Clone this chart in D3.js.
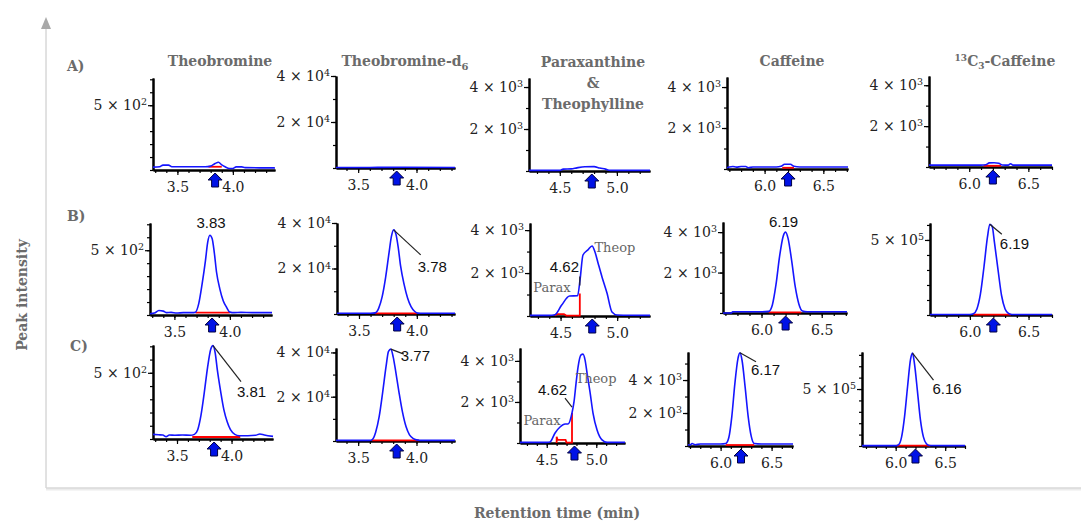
<!DOCTYPE html>
<html lang="en">
<head>
<meta charset="UTF-8">
<title>Chromatograms</title>
<script src="https://cdn.jsdelivr.net/npm/d3@7"></script>
<style>
    body { margin: 0; background: #fff; }
    svg text { font-family: "DejaVu Serif", serif; }
    .title, .rowlab, .axlab { font-weight: bold; fill: #6b6b6b; font-size: 14px; }
    .ytick text { font-size: 14px; fill: #222; }
    .xtick text { font-size: 14px; fill: #222; }
    .peak { font-family: "Liberation Sans", Arial, sans-serif !important; font-size: 15px; fill: #111; }
    .cmp { font-size: 13px; fill: #666; }
</style>
</head>
<body>
<script>

    var columns = ["Theobromine", "Theobromine-d6", "Paraxanthine & Theophylline", "Caffeine", "13C3-Caffeine"];
    var rowLabels = ["A)", "B)", "C)"];

    // retention time axes (min)
    var xDomains = [[3.28, 4.38], [3.31, 4.33], [4.23, 5.29], [5.68, 6.71], [5.66, 6.70]];
    var xTickLabels = [[3.5, 4.0], [3.5, 4.0], [4.5, 5.0], [6.0, 6.5], [6.0, 6.5]];
    var expectedRT = [3.84, 3.83, 4.78, 6.20, 6.20];

    // intensity axes
    var yMaxA = [710, 40000, 4430, 4490, 4450];
    var yMaxB = [710, 40000, 4330, 4500, 613000];
    var yMaxC = [710, 42000, 4630, 5700, 825000];
    var yTicksA = [[500], [20000, 40000], [2000, 4000], [2000, 4000], [2000, 4000]];
    var yTicksB = [[500], [20000, 40000], [2000, 4000], [2000, 4000], [500000]];
    var yTicksC = [[500], [20000, 40000], [2000, 4000], [2000, 4000], [500000]];
    var yMinorA = [100, 10000, 1000, 1000, 1000];
    var yMinorB = [100, 10000, 1000, 1000, 100000];
    var yMinorC = [100, 10000, 1000, 1000, 100000];

    // A) traces [time, intensity]
    var traceA1 = [[3.28,22],[3.34,25],[3.37,38],[3.42,38],[3.45,25],[3.75,25],[3.8,30],[3.84,50],[3.87,60],[3.9,40],[3.93,25],[3.97,12],[4.0,12],[4.03,24],[4.08,24],[4.11,18],[4.38,16]];
    var traceA2 = [[3.31,250],[3.6,250],[3.9,300],[4.33,250]];
    var traceA3 = [[4.23,30],[4.5,30],[4.53,90],[4.6,100],[4.65,150],[4.72,200],[4.8,210],[4.85,140],[4.9,90],[4.94,30],[5.29,30]];
    var traceA4 = [[5.68,60],[5.7,100],[5.73,120],[5.76,90],[5.8,120],[5.84,120],[5.86,60],[5.9,100],[6.0,100],[6.1,100],[6.14,130],[6.17,230],[6.22,230],[6.25,130],[6.3,100],[6.71,100]];
    var traceA5 = [[5.66,90],[6.1,90],[6.14,110],[6.17,200],[6.21,210],[6.25,180],[6.28,100],[6.33,90],[6.35,160],[6.37,90],[6.7,90]];
    var baseA1 = [[3.78,25],[3.9,25]];
    var baseA4 = [[6.15,60],[6.25,60]];
    var baseA5 = [[6.12,60],[6.27,60]];

    // B) traces
    var traceB1 = [[3.28,10],[3.32,15],[3.36,35],[3.4,30],[3.43,18],[3.47,20],[3.52,15],[3.58,18],[3.66,18],[3.69,22],[3.72,90],[3.75,240],[3.78,420],[3.8,560],[3.82,615],[3.84,590],[3.86,480],[3.88,330],[3.91,200],[3.94,110],[3.97,60],[4.0,22],[4.04,18],[4.1,20],[4.2,18],[4.38,18]];
    var traceB2 = [[3.31,300],[3.6,300],[3.64,500],[3.67,2500],[3.7,7500],[3.73,16000],[3.76,27000],[3.78,34000],[3.8,37000],[3.82,35000],[3.84,29000],[3.86,21000],[3.89,13000],[3.92,7000],[3.95,3200],[3.98,1200],[4.01,400],[4.05,300],[4.33,300]];
    var traceB3 = [[4.23,30],[4.4,30],[4.45,60],[4.51,510],[4.58,930],[4.65,940],[4.672,1680],[4.698,2840],[4.742,3080],[4.778,3260],[4.804,2980],[4.831,2470],[4.866,1820],[4.91,1070],[4.954,190],[5.0,50],[5.29,30]];
    var traceB4 = [[5.68,0],[5.75,0],[5.76,60],[6.0,60],[6.06,80],[6.09,400],[6.12,1400],[6.15,2800],[6.18,3800],[6.2,4000],[6.22,3700],[6.25,2600],[6.28,1300],[6.31,450],[6.34,100],[6.38,60],[6.71,60]];
    var traceB5 = [[5.66,3000],[6.0,3000],[6.03,8000],[6.06,40000],[6.09,140000],[6.12,320000],[6.15,520000],[6.17,605000],[6.19,590000],[6.21,480000],[6.24,300000],[6.27,130000],[6.3,40000],[6.33,10000],[6.36,3000],[6.7,3000]];
    var baseB1 = [[3.69,18],[4.0,18]];
    var baseB2 = [[3.64,300],[4.0,300]];
    var baseB3 = [[4.45,20],[4.47,90],[4.53,90],[4.55,20],[4.67,20],[4.67,1050]];
    var baseB4 = [[6.06,30],[6.33,30]];
    var baseB5 = [[6.03,3000],[6.35,3000]];

    // C) traces
    var traceC1 = [[3.28,35],[3.33,32],[3.37,30],[3.4,18],[3.43,30],[3.48,28],[3.55,30],[3.62,28],[3.66,35],[3.69,70],[3.72,180],[3.75,350],[3.78,540],[3.81,680],[3.83,705],[3.85,650],[3.87,520],[3.9,360],[3.93,220],[3.96,130],[3.99,70],[4.03,35],[4.07,25],[4.15,25],[4.22,28],[4.26,38],[4.3,30],[4.38,20]];
    var traceC2 = [[3.31,300],[3.6,300],[3.62,600],[3.65,4000],[3.68,11000],[3.71,22000],[3.74,34000],[3.76,40500],[3.78,41500],[3.8,38000],[3.82,32000],[3.85,22000],[3.88,13000],[3.91,6500],[3.94,2800],[3.97,1200],[4.0,500],[4.03,300],[4.33,300]];
    var traceC3 = [[4.23,30],[4.5,30],[4.533,50],[4.584,490],[4.634,780],[4.685,925],[4.715,925],[4.755,1460],[4.775,2000],[4.796,2920],[4.816,3700],[4.846,4290],[4.866,4330],[4.887,4040],[4.907,3410],[4.937,2480],[4.967,1460],[5.008,630],[5.058,150],[5.109,30],[5.29,30]];
    var traceC4 = [[5.68,80],[5.7,60],[5.72,150],[5.75,80],[5.8,120],[6.0,120],[6.05,150],[6.08,500],[6.11,1800],[6.14,3800],[6.17,5300],[6.19,5650],[6.21,5200],[6.24,3600],[6.27,1800],[6.3,600],[6.33,150],[6.4,120],[6.71,120]];
    var traceC5 = [[5.66,3000],[6.0,3000],[6.03,12000],[6.06,80000],[6.09,260000],[6.12,520000],[6.15,760000],[6.17,815000],[6.19,720000],[6.22,480000],[6.25,230000],[6.28,80000],[6.31,20000],[6.34,5000],[6.7,3000]];
    var baseC1 = [[3.64,15],[4.08,15]];
    var baseC2 = [[3.62,300],[4.02,300]];
    var baseC3 = [[4.6,0],[4.6,300],[4.61,150],[4.69,150],[4.70,20],[4.755,20],[4.755,1460]];
    var baseC4 = [[6.05,60],[6.33,60]];
    var baseC5 = [[6.01,3000],[6.35,3000]];

    // peak annotations: row, column, label, anchor point [time, intensity]
    var peakLabels = [
        [1, 0, "3.83", 3.84, 615], [1, 1, "3.78", 3.80, 37000], [1, 2, "4.62", 4.67, 1050],
        [1, 3, "6.19", 6.20, 4000], [1, 4, "6.19", 6.17, 605000],
        [2, 0, "3.81", 3.83, 705], [2, 1, "3.77", 3.78, 41500], [2, 2, "4.62", 4.755, 1460],
        [2, 3, "6.17", 6.19, 5650], [2, 4, "6.16", 6.17, 815000]
    ];
    var compoundLabels = [
        [1, 2, "Parax", 4.424, 1118], [1, 2, "Theop", 4.98, 2980],
        [2, 2, "Parax", 4.452, 877], [2, 2, "Theop", 4.998, 2922]
    ];

    // tables built from the arrays above
    var traces = [[traceA1, traceA2, traceA3, traceA4, traceA5], [traceB1, traceB2, traceB3, traceB4, traceB5], [traceC1, traceC2, traceC3, traceC4, traceC5]];
    var bases = [[baseA1, null, null, baseA4, baseA5], [baseB1, baseB2, baseB3, baseB4, baseB5], [baseC1, baseC2, baseC3, baseC4, baseC5]];
    var yMax = [yMaxA, yMaxB, yMaxC];
    var yTicks = [yTicksA, yTicksB, yTicksC];
    var yMinor = [yMinorA, yMinorB, yMinorC];

    // layout: plot box of each panel (pixels)
    var boxes = [
        [{l:153,r:275,t:78,b:170},{l:336,r:455,t:76,b:168},{l:529,r:650,t:78,b:171},{l:727,r:848,t:77,b:169},{l:929,r:1052,t:76,b:167}],
        [{l:150,r:272,t:223,b:315},{l:337,r:455,t:223,b:314},{l:530,r:650,t:223,b:316},{l:723,r:847,t:222,b:313},{l:930,r:1052,t:223,b:315}],
        [{l:153,r:273,t:345,b:439},{l:336,r:455,t:348,b:441},{l:520,r:625,t:348,b:443},{l:688,r:793,t:352,b:446},{l:862,r:965,t:352,b:446}]
    ];
    // label offsets from anchor: text dx, dy, anchor, leader [x0,y0,x1,y1]
    var labelLayout = [
        [-1,-7,"middle",null], [24,42,"start",[0,0,27,25]], [-30,-21,"start",[0,-17,0,-8]],
        [-2,-5,"middle",null], [10,25,"start",[0,0,12,10]],
        [24,51,"start",[0,0,28,36]], [10,12,"start",[0,0,13,5]], [-34,-18,"start",[-7,-15,0,-6]],
        [11,22,"start",[0,0,16,9]], [20,41,"start",[0,0,21,27]]
    ];

    var svg = d3.select("body").append("svg")
            .attr("width", 1081)
            .attr("height", 522);

    // outer frame with y arrow
    svg.append("line").attr("x1", 46).attr("y1", 27).attr("x2", 46).attr("y2", 488)
            .attr("stroke", "#c4c4c4").attr("stroke-width", 1);
    svg.append("path").attr("d", "M41,29L46,17L51,29Z").attr("fill", "#a9a9a9");
    svg.append("line").attr("x1", 46).attr("y1", 489).attr("x2", 1081).attr("y2", 489)
            .attr("stroke", "#ececec").attr("stroke-width", 3);
    svg.append("line").attr("x1", 46).attr("y1", 488).attr("x2", 1081).attr("y2", 488)
            .attr("stroke", "#cfcfcf").attr("stroke-width", 1);

    svg.append("text").attr("class", "axlab")
            .attr("transform", "translate(27,295) rotate(-90)")
            .attr("text-anchor", "middle").text("Peak intensity");
    svg.append("text").attr("class", "axlab")
            .attr("x", 557).attr("y", 518)
            .attr("text-anchor", "middle").text("Retention time (min)");

    // column titles
    var titleX = [220, 405, 593, 792, 1005];
    svg.append("text").attr("class", "title").attr("x", titleX[0]).attr("y", 66).attr("text-anchor", "middle").text(columns[0]);
    var t2 = svg.append("text").attr("class", "title").attr("x", titleX[1]).attr("y", 66).attr("text-anchor", "middle");
    t2.append("tspan").text("Theobromine-d");
    t2.append("tspan").attr("dy", 4).attr("font-size", 10).text("6");
    var parts = columns[2].split(" ");
    [parts[0], parts[1], parts[2]].forEach(function (s, i) {
        svg.append("text").attr("class", "title").attr("x", titleX[2]).attr("y", 67 + i * 21)
                .attr("text-anchor", "middle").text(s);
    });
    svg.append("text").attr("class", "title").attr("x", titleX[3]).attr("y", 66).attr("text-anchor", "middle").text(columns[3]);
    var t5 = svg.append("text").attr("class", "title").attr("x", titleX[4]).attr("y", 66).attr("text-anchor", "middle");
    t5.append("tspan").attr("font-size", 9).attr("dy", -5).text("13");
    t5.append("tspan").attr("dy", 5).text("C");
    t5.append("tspan").attr("font-size", 9).attr("dy", 3).text("3");
    t5.append("tspan").attr("dy", -3).text("-Caffeine");

    // row labels
    var rowY = [71, 221, 351];
    rowLabels.forEach(function (s, i) {
        svg.append("text").attr("class", "rowlab").attr("x", i == 2 ? 70 : 67).attr("y", rowY[i]).text(s);
    });

    var scales = [];

    rowLabels.forEach(function (rl, r) {
        scales.push([]);
        columns.forEach(function (cn, c) {
            var b = boxes[r][c];
            var x = d3.scaleLinear().domain(xDomains[c]).range([b.l, b.r]);
            var y = d3.scaleLinear().domain([0, yMax[r][c]]).range([b.b, b.t]);
            scales[r].push({x: x, y: y});
            var g = svg.append("g");

            // x axis: minor ticks every 0.1 min, labels every 0.5
            var minorX = d3.ticks(xDomains[c][0], xDomains[c][1], 10);
            g.append("g").attr("class", "xtick").attr("transform", "translate(0," + b.b + ")")
                    .call(d3.axisBottom(x).tickValues(minorX).tickSize(3).tickSizeOuter(0).tickFormat(""));
            g.append("g").attr("class", "xtick").attr("transform", "translate(0," + b.b + ")")
                    .call(d3.axisBottom(x).tickValues(xTickLabels[c]).tickSize(5).tickSizeOuter(0)
                            .tickPadding(7).tickFormat(d3.format(".1f")));

            // y axis
            var minorY = d3.range(0, yMax[r][c] + 1, yMinor[r][c]);
            g.append("g").attr("class", "ytick").attr("transform", "translate(" + b.l + ",0)")
                    .call(d3.axisLeft(y).tickValues(minorY).tickSize(3).tickSizeOuter(0).tickFormat(""));
            var ya = g.append("g").attr("class", "ytick").attr("transform", "translate(" + b.l + ",0)")
                    .call(d3.axisLeft(y).tickValues(yTicks[r][c]).tickSize(5).tickSizeOuter(0).tickPadding(1));
            ya.selectAll(".tick text").each(function (d) {
                var e = Math.floor(Math.log10(d) + 1e-9);
                var m = Math.round(d / Math.pow(10, e));
                var t = d3.select(this).text("");
                t.append("tspan").text(m + " \u00d7 10");
                t.append("tspan").attr("dy", "-0.5em").attr("font-size", "0.68em").text(e);
            });

            g.selectAll(".domain").attr("stroke", "#000").attr("stroke-width", 2);
            g.selectAll(".tick line").attr("stroke", "#000").attr("stroke-width", 1.2);

            // red integration baseline
            if (bases[r][c]) {
                g.append("path").datum(bases[r][c])
                        .attr("d", d3.line().x(function (d) { return x(d[0]); }).y(function (d) { return y(d[1]); }))
                        .attr("fill", "none").attr("stroke", "#ff0000").attr("stroke-width", 1.8);
            }

            // chromatogram
            g.append("path").datum(traces[r][c])
                    .attr("d", d3.line().x(function (d) { return x(d[0]); }).y(function (d) { return y(d[1]); })
                            .curve(d3.curveMonotoneX))
                    .attr("fill", "none").attr("stroke", "#1515ff").attr("stroke-width", 1.6);

            // expected retention time arrow
            var ax = x(expectedRT[c]), at = b.b + 3;
            g.append("path")
                    .attr("d", "M" + ax + "," + at + "l7,7h-3.5v7h-7v-7h-3.5z")
                    .attr("fill", "#0012e6").attr("stroke", "#000040").attr("stroke-width", 1);
        });
    });

    // peak labels
    peakLabels.forEach(function (p, i) {
        var s = scales[p[0]][p[1]], lay = labelLayout[i];
        var px = s.x(p[3]), py = s.y(p[4]);
        if (lay[3]) {
            svg.append("line")
                    .attr("x1", px + lay[3][0]).attr("y1", py + lay[3][1])
                    .attr("x2", px + lay[3][2]).attr("y2", py + lay[3][3])
                    .attr("stroke", "#222").attr("stroke-width", 1.2);
        }
        svg.append("text").attr("class", "peak")
                .attr("x", px + lay[0]).attr("y", py + lay[1])
                .attr("text-anchor", lay[2]).text(p[2]);
    });

    compoundLabels.forEach(function (p) {
        var s = scales[p[0]][p[1]];
        svg.append("text").attr("class", "cmp")
                .attr("x", s.x(p[3])).attr("y", s.y(p[4]))
                .attr("text-anchor", "middle").text(p[2]);
    });

</script>
</body>
</html>
